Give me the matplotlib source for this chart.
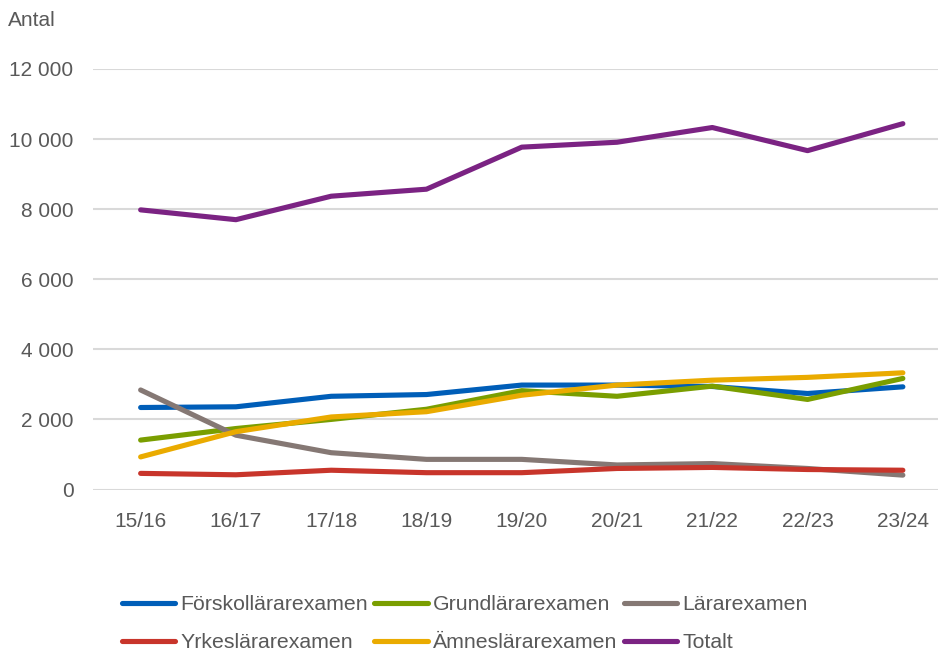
import matplotlib
matplotlib.use('Agg')
import matplotlib.pyplot as plt
from matplotlib.ticker import FuncFormatter, MultipleLocator

plt.rcParams['font.family'] = ['Liberation Sans', 'DejaVu Sans']

years = ['15/16', '16/17', '17/18', '18/19', '19/20', '20/21', '21/22', '22/23', '23/24']
forskollarar = [2340, 2360, 2660, 2710, 2980, 2980, 2940, 2740, 2930]
grundlarar = [1410, 1740, 2000, 2290, 2820, 2660, 2950, 2570, 3170]
lararexamen = [2840, 1550, 1050, 860, 860, 700, 740, 600, 410]
yrkeslarar = [460, 420, 550, 480, 480, 600, 630, 570, 550]
amneslarar = [930, 1650, 2070, 2220, 2690, 2980, 3120, 3200, 3330]
totalt = [7980, 7700, 8370, 8570, 9770, 9910, 10330, 9670, 10440]

series = [
    ('Förskollärarexamen', forskollarar, '#005EB8'),
    ('Grundlärarexamen', grundlarar, '#7A9E00'),
    ('Lärarexamen', lararexamen, '#857874'),
    ('Yrkeslärarexamen', yrkeslarar, '#C8352B'),
    ('Ämneslärarexamen', amneslarar, '#EAAB00'),
    ('Totalt', totalt, '#7B2383'),
]

W, H = 938, 651
fig = plt.figure(figsize=(W / 100, H / 100), dpi=100)
ax = fig.add_axes([93 / W, 1 - 489.5 / H, (950.5 - 93) / W, (489.5 - 69) / H])

x = list(range(len(years)))
handles = {}
for name, vals, col in series:
    ln, = ax.plot(x, vals, color=col, lw=3.7, solid_capstyle='round',
                  solid_joinstyle='round', label=name, clip_on=False)
    handles[name] = ln

ax.set_xlim(-0.5, len(years) - 0.5)
ax.set_ylim(0, 12000)
ax.yaxis.set_major_locator(MultipleLocator(2000))
ax.yaxis.set_major_formatter(FuncFormatter(lambda v, p: f'{int(v):,}'.replace(',', ' ')))
ax.set_xticks(x)
ax.set_xticklabels(years)
ax.grid(axis='y', color='#D9D9D9', lw=1.5)
ax.set_axisbelow(True)
for s in ax.spines.values():
    s.set_visible(False)
ax.tick_params(axis='both', length=0, labelsize=15, labelcolor='#595959')
ax.tick_params(axis='y', pad=14)
ax.tick_params(axis='x', pad=16)

fig.text(8 / W, 1 - 20 / H, 'Antal', fontsize=15, color='#595959', va='center', ha='left')

order = ['Förskollärarexamen', 'Yrkeslärarexamen', 'Grundlärarexamen',
         'Ämneslärarexamen', 'Lärarexamen', 'Totalt']
leg = fig.legend([handles[n] for n in order], order, ncol=3, frameon=False,
                 loc='upper left', bbox_to_anchor=(122 / W, 1 - 595 / H),
                 borderpad=0, borderaxespad=0, handlelength=2.5, handletextpad=0.25,
                 columnspacing=0.3, labelspacing=0.9, fontsize=15.3)
for t in leg.get_texts():
    t.set_color('#595959')

fig.savefig('out.png', dpi=100)
